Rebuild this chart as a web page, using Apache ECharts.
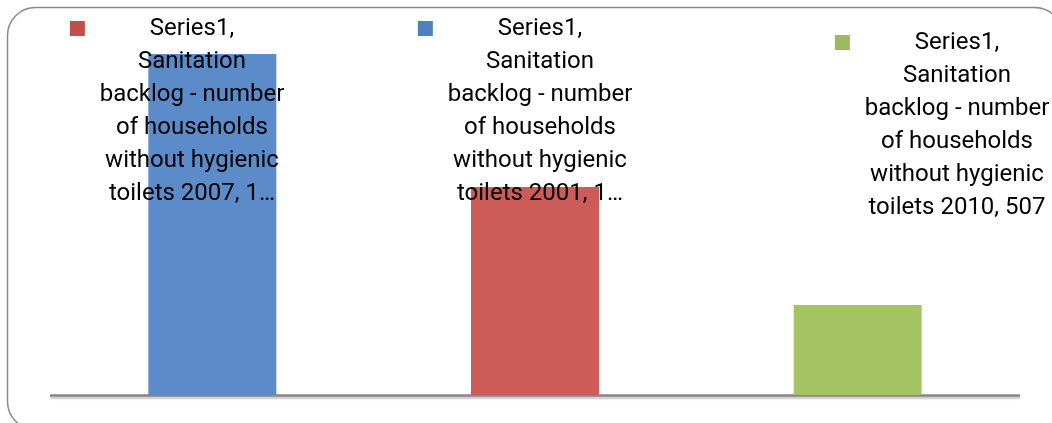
<!DOCTYPE html>
<html>
<head>
<meta charset="utf-8">
<script src="https://cdn.jsdelivr.net/npm/echarts@6/dist/echarts.min.js"></script>
<style>
  html, body { margin: 0; padding: 0; background: #fff; }
  #chart { width: 1052px; height: 423px; }
</style>
</head>
<body>
<div id="chart"></div>
<script>
// Sanitation backlog: households without hygienic toilets, by year
const seriesName = 'Series1';
const measureLines = ['Sanitation', 'backlog - number', 'of households', 'without hygienic', 'toilets'];
const years = ['2007', '2001', '2010'];
const households = [1921, 1172, 507];

// Fill colours of the bars and of the key squares shown beside each data label
const barColors = ['#5B8BC8', '#CD5B57', '#A5C463'];
const keyColors = ['#C0504D', '#4F81BD', '#9BBB59'];

// Where each data label sits (centre x, top y of the label block)
const labelSpots = [[192, 12], [540, 12], [957, 26]];
const labelFont = '24px Roboto';
const labelBoxWidth = 177.5;

// Shorten a line with an ellipsis when it is wider than the label box
const measureCtx = document.createElement('canvas').getContext('2d');
function fitLine(text) {
  measureCtx.font = labelFont;
  if (measureCtx.measureText(text).width <= labelBoxWidth) return text;
  let s = text;
  while (s.length > 1 && measureCtx.measureText(s + '…').width > labelBoxWidth) s = s.slice(0, -1);
  return s + '…';
}

const labelText = (i) => {
  const body = measureLines.slice(0, -1);
  const last = measureLines[measureLines.length - 1] + ' ' + years[i] + ', ' + households[i];
  return ['{key' + i + '| }{gap| }' + seriesName + ',{pad| }']
    .concat(body, [fitLine(last)])
    .join('\n');
};

const rich = {
  gap: { width: 65 },
  pad: { width: 80 }
};
keyColors.forEach((c, i) => {
  rich['key' + i] = { width: 15, height: 15, backgroundColor: c };
});

const chart = echarts.init(document.getElementById('chart'), null, { renderer: 'canvas' });
chart.setOption({
  animation: false,
  backgroundColor: '#fff',
  textStyle: { fontFamily: 'Roboto' },
  grid: { left: 51, right: 33, top: 40, bottom: 28 },
  xAxis: {
    type: 'category',
    data: years,
    axisLine: {
      show: true,
      lineStyle: { color: '#868686', width: 2.5, shadowColor: 'rgba(0,0,0,0.25)', shadowOffsetY: 2, shadowBlur: 2 }
    },
    axisTick: { show: false },
    axisLabel: { show: false }
  },
  yAxis: {
    type: 'value',
    min: 0,
    max: 2000,
    show: false,
    splitLine: { show: false }
  },
  series: [{
    name: seriesName,
    type: 'bar',
    barWidth: 128,
    data: households.map((v, i) => ({ value: v, itemStyle: { color: barColors[i] } })),
    label: {
      show: true,
      position: 'top',
      formatter: (p) => labelText(p.dataIndex),
      fontFamily: 'Roboto',
      fontSize: 24,
      lineHeight: 33,
      color: '#000',
      align: 'center',
      rich: rich
    },
    labelLayout: (params) => {
      const spot = labelSpots[params.dataIndex];
      return { x: spot[0], y: spot[1], align: 'center', verticalAlign: 'top' };
    }
  }],
  graphic: [{
    type: 'rect',
    silent: true,
    shape: { x: 7.5, y: 7.5, width: 1055, height: 422, r: 28 },
    style: { fill: null, stroke: '#8A8A8A', lineWidth: 1.5 }
  }]
});
</script>
</body>
</html>
